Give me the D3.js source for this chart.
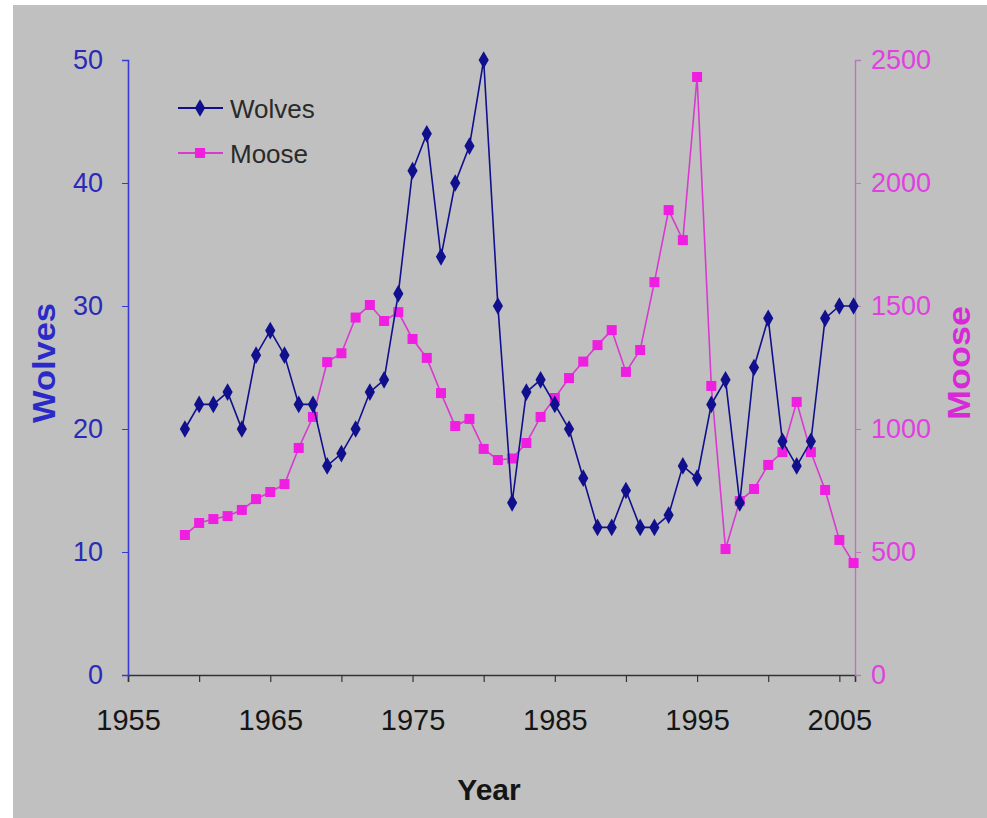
<!DOCTYPE html>
<html>
<head>
<meta charset="utf-8">
<script src="https://cdn.jsdelivr.net/npm/d3@7"></script>
<style>
  html, body { margin: 0; padding: 0; background: #ffffff; }
  svg { display: block; }
  text { font-family: "Liberation Sans", Arial, sans-serif; }
</style>
</head>
<body>
<svg id="chart" width="987" height="818"></svg>
<script>
// ---- data ----
const years = [1959,1960,1961,1962,1963,1964,1965,1966,1967,1968,
               1969,1970,1971,1972,1973,1974,1975,1976,1977,1978,
               1979,1980,1981,1982,1983,1984,1985,1986,1987,1988,
               1989,1990,1991,1992,1993,1994,1995,1996,1997,1998,
               1999,2000,2001,2002,2003,2004,2005,2006];
const wolves = [20,22,22,23,20,26,28,26,22,22,
                17,18,20,23,24,31,41,44,34,40,
                43,50,30,14,23,24,22,20,16,12,
                12,15,12,12,13,17,16,22,24,14,
                25,29,19,17,19,29,30,30];
const moose = [569,618,634,646,671,715,744,776,923,1049,
               1272,1308,1453,1504,1439,1475,1366,1289,1146,1012,
               1041,919,874,880,943,1049,1126,1207,1274,1341,
               1402,1232,1321,1597,1890,1768,2431,1175,512,707,
               756,854,906,1110,906,752,549,455];
const xTicks = [1955,1960,1965,1970,1975,1980,1985,1990,1995,2000,2005];
const xLabels = [1955,1965,1975,1985,1995,2005];
const wolfTicks = [0,10,20,30,40,50];
const mooseTicks = [0,500,1000,1500,2000,2500];
const seriesNames = ["Wolves","Moose"];

// ---- layout ----
const svg = d3.select("#chart");
const L = 128, R = 855, T = 60, B = 675;
const wolfColor = "#10108e", wolfAxis = "#3a3ad0", wolfText = "#2a2ab8";
const mooseColor = "#f01ee0", mooseLine = "#d83ad0", mooseAxis = "#b878b8", mooseText = "#e040e0";

svg.append("rect").attr("x",13).attr("y",5).attr("width",974).attr("height",813).attr("fill","#c0c0c0");

const x = d3.scaleLinear().domain([1955, 2006.1]).range([L, R]);
const yW = d3.scaleLinear().domain([0, 50]).range([B, T]);
const yM = d3.scaleLinear().domain([0, 2500]).range([B, T]);

// x axis
const xAxis = svg.append("g").attr("transform", `translate(0,${B})`)
  .call(d3.axisBottom(x).tickValues(xTicks).tickSize(7).tickFormat(d => xLabels.includes(d) ? d : ""));
xAxis.select(".domain").attr("stroke","#333").attr("stroke-width",1.6);
xAxis.selectAll(".tick line").attr("stroke","#333").attr("stroke-width",1.2);
xAxis.selectAll(".tick text").attr("fill","#151515").attr("font-size",29).attr("dy",0).attr("y",55);

// left axis
const lAxis = svg.append("g").attr("transform", `translate(${L},0)`)
  .call(d3.axisLeft(yW).tickValues(wolfTicks).tickSize(6).tickPadding(19).tickFormat(d3.format("d")));
lAxis.select(".domain").attr("stroke",wolfAxis).attr("stroke-width",1.6);
lAxis.selectAll(".tick line").attr("stroke",wolfAxis);
lAxis.selectAll(".tick text").attr("fill",wolfText).attr("font-size",27);

// right axis
const rAxis = svg.append("g").attr("transform", `translate(${R},0)`)
  .call(d3.axisRight(yM).tickValues(mooseTicks).tickSize(6).tickPadding(10).tickFormat(d3.format("d")));
rAxis.select(".domain").attr("stroke",mooseAxis).attr("stroke-width",1.4);
rAxis.selectAll(".tick line").attr("stroke",mooseAxis);
rAxis.selectAll(".tick text").attr("fill",mooseText).attr("font-size",27);

// axis titles
svg.append("text").attr("x",489).attr("y",800).attr("text-anchor","middle")
  .attr("font-size",30).attr("font-weight","bold").attr("fill","#151515").text("Year");
svg.append("text").attr("transform","translate(55,363) rotate(-90)").attr("text-anchor","middle")
  .attr("font-size",31).attr("font-weight","bold").attr("fill","#2a2ac8")
  .attr("textLength",120).attr("lengthAdjust","spacingAndGlyphs").text("Wolves");
svg.append("text").attr("transform","translate(970,363) rotate(-90)").attr("text-anchor","middle")
  .attr("font-size",31).attr("font-weight","bold").attr("fill","#d828d8")
  .attr("textLength",114).attr("lengthAdjust","spacingAndGlyphs").text("Moose");

// series
const diamond = d3.symbol().type(d3.symbolDiamond).size(90);
const square = d3.symbol().type(d3.symbolSquare).size(100);

const wData = years.map((yr,i) => [yr, wolves[i]]);
const mData = years.map((yr,i) => [yr, moose[i]]);

svg.append("path").datum(mData)
  .attr("d", d3.line().x(d => x(d[0])).y(d => yM(d[1])))
  .attr("fill","none").attr("stroke",mooseLine).attr("stroke-width",1.6);
svg.append("g").selectAll("path").data(mData).join("path")
  .attr("transform", d => `translate(${x(d[0])},${yM(d[1])})`)
  .attr("d", square).attr("fill",mooseColor);

svg.append("path").datum(wData)
  .attr("d", d3.line().x(d => x(d[0])).y(d => yW(d[1])))
  .attr("fill","none").attr("stroke",wolfColor).attr("stroke-width",1.6);
svg.append("g").selectAll("path").data(wData).join("path")
  .attr("transform", d => `translate(${x(d[0])},${yW(d[1])})`)
  .attr("d", diamond).attr("fill",wolfColor);

// legend
const leg = svg.append("g");
const legY = [108, 153];
[[wolfColor, wolfColor, diamond], [mooseLine, mooseColor, square]].forEach((s, i) => {
  leg.append("line").attr("x1",178).attr("x2",223).attr("y1",legY[i]).attr("y2",legY[i])
    .attr("stroke",s[0]).attr("stroke-width",2);
  leg.append("path").attr("transform",`translate(200,${legY[i]})`).attr("d",s[2]).attr("fill",s[1]);
  leg.append("text").attr("x",230).attr("y",legY[i]+10).attr("font-size",26)
    .attr("fill","#2a2a2a").text(seriesNames[i]);
});
</script>
</body>
</html>
